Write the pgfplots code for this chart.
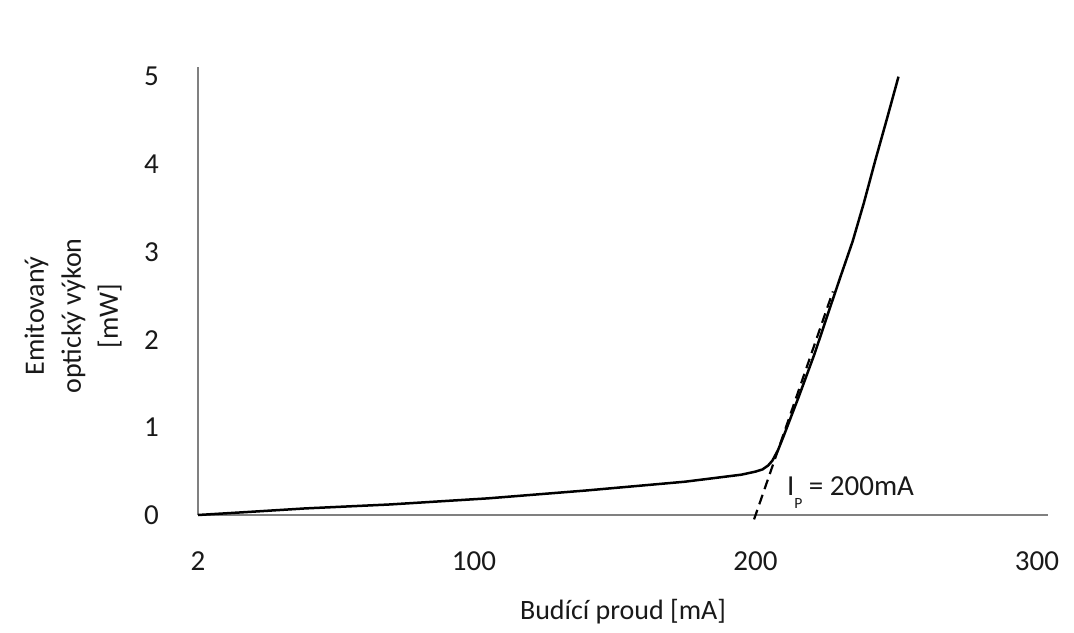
\documentclass[border=0pt]{standalone}
\usepackage{fontspec}
\setmainfont{Carlito}
\usepackage{pgfplots}
\pgfplotsset{compat=1.18}

\begin{document}
\begin{tikzpicture}
\begin{axis}[
    name=ax,
    scale only axis,
    width=425pt, height=224pt,
    xmin=2, xmax=303.9,
    ymin=0, ymax=5.11,
    axis lines=left,
    axis line style={-, draw=black!50, line width=0.6pt},
    major tick length=0pt,
    xtick={2,100,200,300},
    ytick={0,1,2,3,4,5},
    /pgf/number format/assume math mode=true,
    yticklabel style={font=\fontsize{14.5}{17}\selectfont, text=black!90, xshift=-16pt},
    xticklabel style={font=\fontsize{14.5}{17}\selectfont, text=black!90, yshift=-15pt},
    xlabel={Budící proud [mA]},
    ylabel={Emitovaný\\optický výkon\\{[mW]}},
    xlabel style={at={(axis description cs:0.5,-0.2165)}, anchor=center,
        font=\fontsize{14}{17}\selectfont, text=black!90},
    ylabel style={at={(axis description cs:-0.147,0.444)}, anchor=center,
        align=center, font=\fontsize{14}{18.5}\selectfont, text=black!90},
    clip=false,
]
% measured characteristic
\addplot[black, line width=1.25pt, line join=round] coordinates {
    (2,0) (20,0.035) (40,0.075) (70,0.12) (105,0.19) (140,0.28)
    (175,0.38) (195,0.46) (200,0.495) (202.5,0.52) (204.5,0.565)
    (206,0.62) (208,0.74) (210,0.9) (215.5,1.36) (221,1.84)
    (226,2.32) (230,2.7) (234.5,3.12) (238.5,3.56) (242.6,4.05)
    (246.7,4.52) (250.8,5.0)
};
% tangent -> threshold current
\addplot[black, line width=1.1pt, dash pattern=on 5pt off 3pt] coordinates {
    (199.5,-0.05) (227.5,2.55)
};
\node[anchor=base west, font=\fontsize{14.5}{17}\selectfont, text=black!90]
    at (axis cs:208.7,0.228) {I\raisebox{-6.5pt}{\fontsize{7.8}{9}\selectfont P} = 200mA};
\end{axis}
\pgfresetboundingbox
\path ([shift={(-99pt,-58.5pt)}]ax.south west) rectangle ([shift={(438pt,257.5pt)}]ax.south west);
\end{tikzpicture}
\end{document}
